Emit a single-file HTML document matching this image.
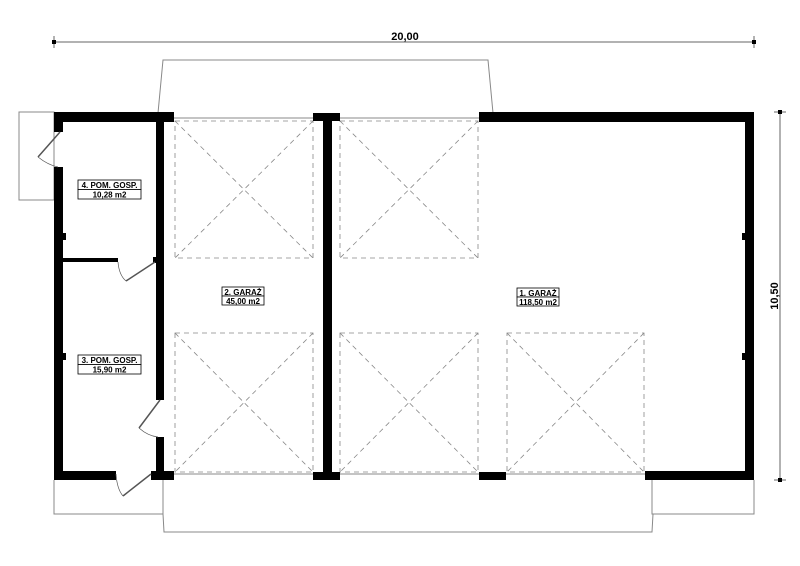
<!DOCTYPE html>
<html><head><meta charset="utf-8"><style>
html,body{margin:0;padding:0;background:#fff;}
svg{display:block}
text{font-family:"Liberation Sans",sans-serif;font-weight:bold;fill:#000}
</style></head><body>
<svg width="800" height="566" viewBox="0 0 800 566" xmlns="http://www.w3.org/2000/svg">
<rect width="800" height="566" fill="#fff"/>
<!-- dimensions -->
<g stroke="#666" stroke-width="1" fill="none">
<line x1="54" y1="42" x2="754" y2="42"/>
<line x1="54" y1="36" x2="54" y2="48"/><line x1="754" y1="36" x2="754" y2="48"/>
<line x1="780" y1="112" x2="780" y2="480"/>
<line x1="774" y1="112" x2="786" y2="112"/><line x1="774" y1="480" x2="786" y2="480"/>
</g>
<rect x="52" y="40" width="4" height="4" fill="#000"/><rect x="752" y="40" width="4" height="4" fill="#000"/>
<rect x="778" y="110" width="4" height="4" fill="#000"/><rect x="778" y="478" width="4" height="4" fill="#000"/>
<text x="405" y="40" font-size="11" text-anchor="middle">20,00</text>
<text x="0" y="0" font-size="11" text-anchor="middle" transform="translate(778,296) rotate(-90)">10,50</text>
<!-- porches -->
<g stroke="#888" stroke-width="1" fill="none">
<polyline points="158,113 163,60 488,60 493,113"/>
<line x1="174" y1="118" x2="479" y2="118"/>
<line x1="174" y1="474" x2="652" y2="474"/>
<rect x="19" y="112" width="35" height="88"/>
<polyline points="54,480 54,514 163,514"/>
<polyline points="163,480 163,514 164,532 652,532 653,514"/>
<polyline points="652,480 652,514 754,514 754,480"/>
</g>
<!-- dashed X -->
<g stroke="#888" stroke-width="0.8" fill="none" stroke-dasharray="5,4">
<rect x="175" y="121" width="138" height="137"/><path d="M175 121L313 258M313 121L175 258"/>
<rect x="175" y="333" width="138" height="139"/><path d="M175 333L313 472M313 333L175 472"/>
<rect x="340" y="121" width="138" height="137"/><path d="M340 121L478 258M478 121L340 258"/>
<rect x="340" y="333" width="138" height="139"/><path d="M340 333L478 472M478 333L340 472"/>
<rect x="507" y="333" width="137" height="139"/><path d="M507 333L644 472M644 333L507 472"/>
</g>
<!-- walls -->
<g fill="#000">
<rect x="54" y="112" width="120" height="10"/>
<rect x="54" y="112" width="9" height="20"/>
<rect x="54" y="167" width="9" height="313"/>
<rect x="63" y="233" width="3" height="7"/><rect x="63" y="353" width="3" height="7"/>
<rect x="156" y="112" width="8" height="288"/>
<rect x="156" y="437" width="8" height="43"/>
<rect x="151" y="471" width="23" height="9"/>
<rect x="54" y="471" width="62" height="9"/>
<rect x="63" y="258" width="55" height="4"/>
<rect x="153" y="257" width="4" height="6"/>
<rect x="313" y="113" width="27" height="8"/>
<rect x="323" y="113" width="9" height="367"/>
<rect x="313" y="472" width="27" height="8"/>
<rect x="479" y="472" width="27" height="8"/>
<rect x="479" y="112" width="275" height="10"/>
<rect x="745" y="112" width="9" height="368"/>
<rect x="645" y="471" width="109" height="9"/>
<rect x="742" y="233" width="3" height="7"/><rect x="742" y="353" width="3" height="7"/>
</g>
<!-- doors -->
<g stroke="#555" stroke-width="1.5" fill="none">
<line x1="60" y1="132" x2="38" y2="157"/>
<line x1="155" y1="262" x2="126" y2="281"/>
<line x1="160" y1="400" x2="139" y2="428"/>
<line x1="151" y1="474" x2="123" y2="496"/>
</g>
<g stroke="#555" stroke-width="0.7" fill="none">
<path d="M38 157 Q48 165 58 167"/>
<path d="M118 262 Q119 275 126 281"/>
<path d="M139 428 Q148 436 158 437"/>
<path d="M116 474 Q117 489 123 496"/>
</g>
<!-- labels -->
<g fill="#fff" stroke="#000" stroke-width="0.8">
<rect x="78" y="180" width="63" height="9.5"/><rect x="78" y="189.5" width="63" height="9.5"/>
<rect x="78" y="355" width="63" height="9.5"/><rect x="78" y="364.5" width="63" height="9.5"/>
<rect x="222" y="287" width="42" height="9"/><rect x="222" y="296" width="42" height="9"/>
<rect x="517" y="288" width="42" height="9"/><rect x="517" y="297" width="42" height="9"/>
</g>
<g font-size="8" text-anchor="middle">
<text x="109.5" y="188">4. POM. GOSP.</text><text x="109.5" y="197.5">10,28 m2</text>
<text x="109.5" y="363">3. POM. GOSP.</text><text x="109.5" y="372.5">15,90 m2</text>
<text x="243" y="295">2. GARAŻ</text><text x="243" y="304">45,00 m2</text>
<text x="538" y="296">1. GARAŻ</text><text x="538" y="305">118,50 m2</text>
</g>
</svg>
</body></html>
